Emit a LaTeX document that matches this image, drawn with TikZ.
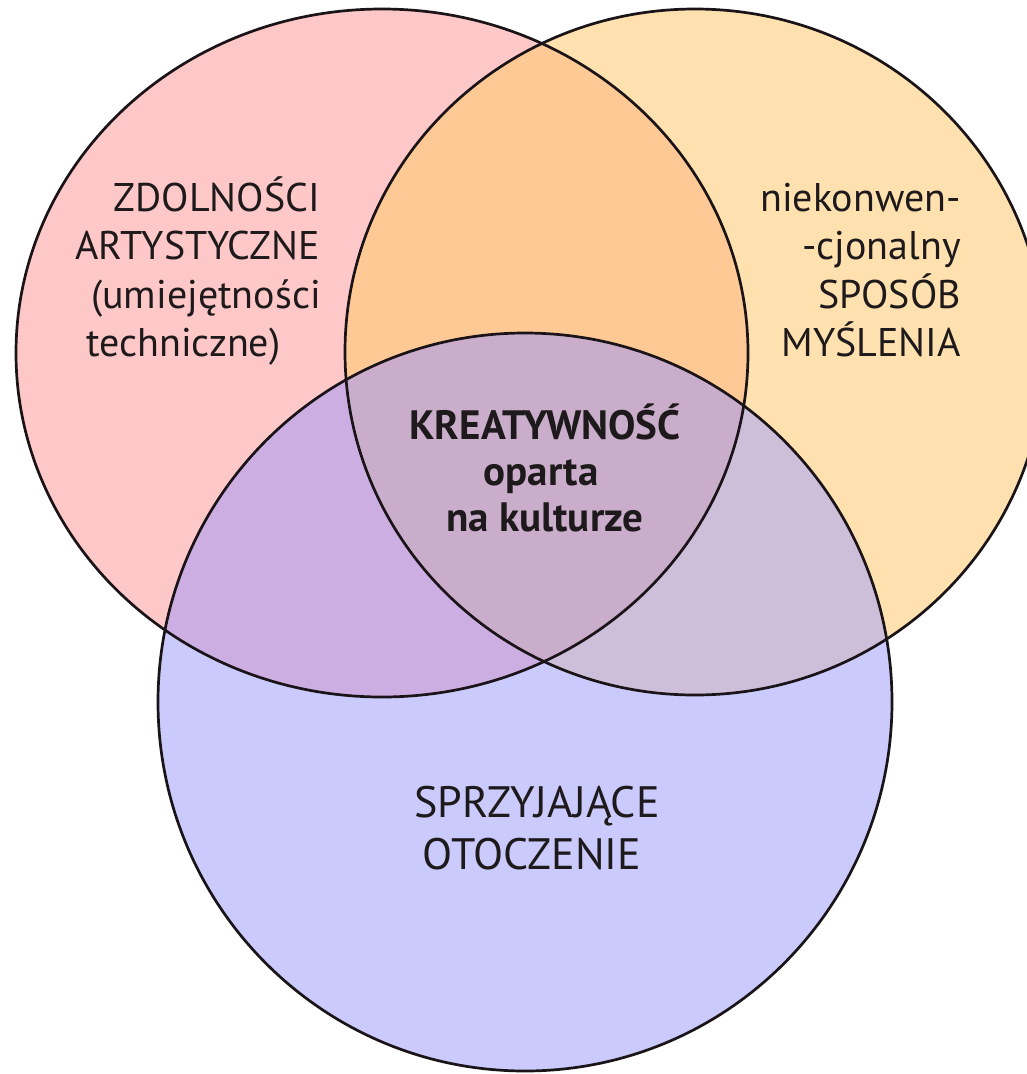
\documentclass[tikz,border=0pt]{standalone}
\usepackage{fontspec}
\setmainfont{PT Sans}
\definecolor{cpink}{HTML}{FFC8C8}
\definecolor{cyel}{HTML}{FFE1B0}
\definecolor{cblue}{HTML}{CACAFC}
\definecolor{corange}{HTML}{FFC996}
\definecolor{cpurple}{HTML}{CCAEE2}
\definecolor{clilac}{HTML}{CDBFDA}
\definecolor{ccenter}{HTML}{CAADCB}
\definecolor{ctext}{HTML}{1E1A1C}
\definecolor{cline}{HTML}{1A1418}
\begin{document}
\begin{tikzpicture}[x=1pt,y=-1pt,
  lbl/.style={font=\fontsize{40}{48}\selectfont, text=ctext, inner sep=0pt},
  clbl/.style={font=\fontsize{41}{48}\selectfont\bfseries, text=ctext, inner sep=0pt, anchor=base},
  blbl/.style={font=\fontsize{44}{52}\selectfont, text=ctext, inner sep=0pt, anchor=base},
  outline/.style={draw=cline, line width=2.7pt}]
\useasboundingbox (0,0) rectangle (1027,1074);
\fill[white] (0,0) rectangle (1027,1074);
\def\Lpath{(382,353) ellipse [x radius=366pt, y radius=344pt]}
\def\Rpath{(695,352) ellipse [x radius=350pt, y radius=343pt]}
\def\Bpath{(525,702) ellipse [x radius=367pt, y radius=369pt]}
\fill[cpink] \Lpath;
\fill[cyel] \Rpath;
\fill[cblue] \Bpath;
\begin{scope}\clip \Lpath; \fill[corange] \Rpath; \end{scope}
\begin{scope}\clip \Lpath; \fill[cpurple] \Bpath; \end{scope}
\begin{scope}\clip \Rpath; \fill[clilac] \Bpath; \end{scope}
\begin{scope}\clip \Lpath; \clip \Rpath; \fill[ccenter] \Bpath; \end{scope}
\draw[outline] \Lpath;
\draw[outline] \Rpath;
\draw[outline] \Bpath;
% left texts
\node[lbl, anchor=base east] (l1) at (320,211) {ZDOLNOŚCI};
\node[lbl, anchor=base east] (l2) at (320,259) {ARTYSTYCZNE};
\node[lbl, anchor=base east] (l3) at (321,308) {(umiejętności};
\node[lbl, anchor=base west] (l4) at (86,356) {techniczne)};
% right texts
\node[lbl, anchor=base east] (r1) at (961,211) {niekonwen-};
\node[lbl, anchor=base east] (r2) at (961,259) {-cjonalny};
\node[lbl, anchor=base east] (r3) at (961,308) {SPOSÓB};
\node[lbl, anchor=base east] (r4) at (961,356) {MYŚLENIA};
% center
\node[clbl] (c1) at (545,439) {KREATYWNOŚĆ};
\node[clbl] (c2) at (541,485) {oparta};
\node[clbl] (c3) at (545,531) {na kulturze};
% bottom
\node[blbl] (b1) at (537,817) {SPRZYJAJĄCE};
\node[blbl] (b2) at (532,869) {OTOCZENIE};
\end{tikzpicture}
\end{document}
